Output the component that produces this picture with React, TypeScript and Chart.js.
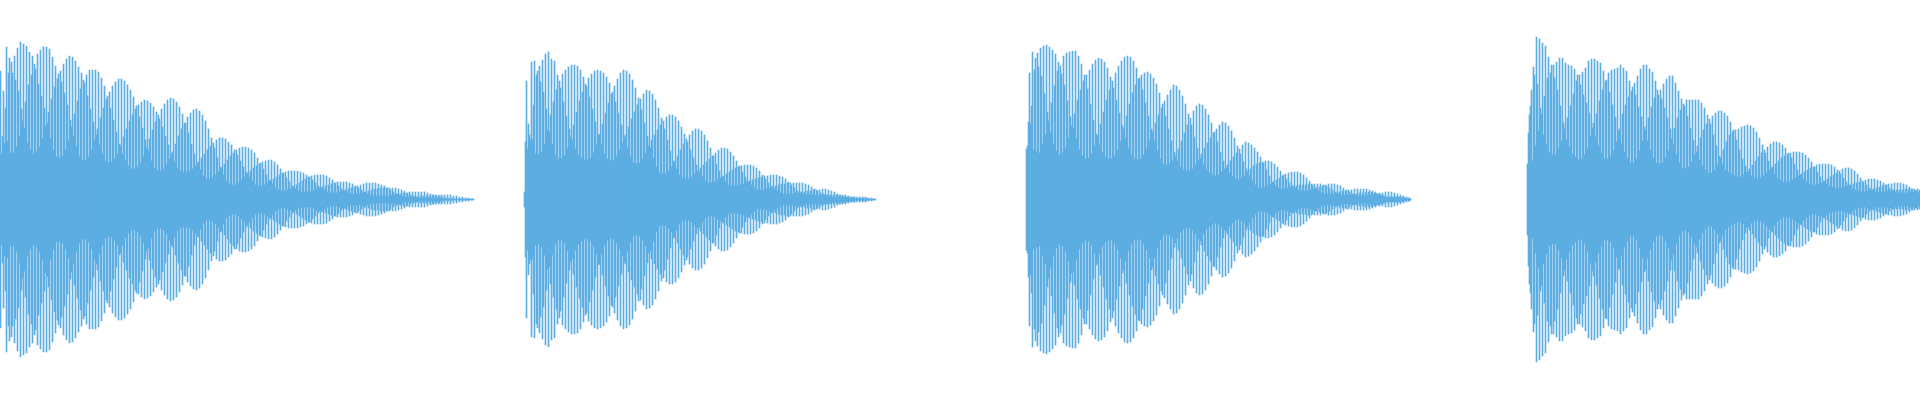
import React, { useEffect, useRef } from "react";
import { Chart, registerables } from "chart.js";

Chart.register(...registerables);

// Half-heights of the waveform bars, listed as the three
// interleaved strands visible in every clip.
const clipA0 = [129,109,153,142,127,120,109,91,72,57,50,46,48,53,61,74,88,101,113,121,129,136,141,144,143,139,133,127,117,104,91,78,65,55,46,39,37,38,41,46,54,63,71,79,85,91,95,98,100,99,97,93,88,81,73,64,55,46,38,32,29,28,28,29,31,34,38,42,46,50,54,57,60,62,62,61,58,55,50,45,39,33,28,23,19,15,14,14,15,17,19,21,23,25,27,28,29,29,29,29,28,27,25,23,20,17,14,12,10,8,7,7,7,8,9,10,11,12,13,14,15,16,17,17,17,17,16,15,14,12,10,8,6,5,4,3,3,3,3,3,4,4,4,4,5,5,5,5,5,5,5,4,4,3,3,2,2,1];
const clipA1 = [46,57,59,47,47,53,64,79,98,115,125,136,146,150,153,153,151,143,134,126,118,107,95,80,64,53,44,40,40,43,50,60,71,82,92,101,108,114,118,121,121,119,115,110,103,94,83,72,60,49,39,32,29,29,31,35,41,48,56,64,71,77,83,87,90,91,89,85,79,71,62,52,42,33,25,19,16,15,15,17,20,23,26,29,32,34,36,38,39,40,40,38,35,31,27,22,18,14,11,9,8,8,8,8,9,11,12,13,14,15,16,17,18,18,18,18,17,16,14,12,10,8,6,5,4,4,4,4,4,4,5,5,6,6,7,7,8,8,8,8,8,8,7,6,5,4,4,3,2,2,2,1,1,1,1,1,1,1];
const clipA2 = [64,92,127,138,144,152,158,156,154,148,144,131,116,104,92,77,61,50,43,42,44,50,59,73,86,99,111,120,125,130,130,130,128,122,114,104,92,80,68,56,46,39,34,31,31,33,37,44,52,61,70,78,85,91,96,100,102,101,98,93,86,77,67,56,46,37,30,24,21,21,22,25,28,32,36,40,44,47,50,52,53,53,52,50,47,42,37,31,25,20,16,12,10,9,9,10,11,13,15,17,19,21,23,24,25,25,25,25,24,22,20,17,14,11,9,7,6,6,6,6,7,8,9,10,11,11,12,12,12,12,12,12,11,10,9,7,5,4,3,2,2,2,2,2,2,2,2,1,1,1,1,1,1,1,1,1,1,1];

const clipBLead = [8];
const clipB0 = [58,76,138,139,129,118,108,91,68,56,45,41,41,44,52,63,75,88,99,108,116,122,126,129,130,129,127,123,117,108,98,87,75,63,52,43,37,36,37,41,47,54,60,65,70,75,79,83,85,85,83,79,73,66,58,50,42,35,28,23,19,17,17,18,20,22,24,26,28,30,32,33,34,35,35,35,34,32,29,25,21,17,14,11,9,7,6,6,6,6,7,7,8,8,9,9,10,10,10,11,11,10,9,8,6,5,4,3,2,2,1,1,1,1,1,1,1];
const clipB1 = [119,65,60,46,45,48,56,70,85,98,110,119,126,130,133,135,135,134,130,123,114,103,91,78,66,55,46,41,39,40,44,50,57,65,73,81,88,95,101,106,110,109,106,100,92,82,71,60,49,39,31,25,22,21,21,23,26,29,32,35,38,41,44,47,50,52,52,51,48,44,39,34,28,23,18,15,12,10,10,10,11,12,13,14,15,16,16,17,17,17,17,17,17,16,15,13,11,9,7,6,5,4,3,3,3,3,3,3,3,3,3,3,3,3,2,2,1];
const clipB2 = [51,61,95,125,134,140,146,148,141,139,125,112,98,84,71,60,51,45,42,40,40,42,47,55,65,76,87,97,106,114,121,127,130,129,126,120,112,102,90,77,64,52,42,33,27,26,26,29,33,38,44,50,56,61,65,69,71,71,69,65,59,52,44,36,29,23,18,15,14,14,14,15,16,18,19,20,21,22,23,24,24,25,25,25,24,23,21,18,15,12,9,7,6,5,5,5,5,5,5,5,5,5,5,5,5,5,5,4,3,3,2,2,2,2,1,1,1];

const clipCLead = [51];
const clipC0 = [54,76,50,48,47,56,65,79,97,114,129,134,144,147,148,149,149,144,136,125,111,96,80,66,55,47,43,41,41,44,50,59,71,84,96,107,115,121,125,127,128,126,122,116,107,96,84,71,59,48,39,33,30,29,29,31,35,40,46,52,57,62,67,71,75,78,77,74,69,62,54,46,38,31,24,19,15,12,12,13,14,16,18,20,22,24,26,27,28,28,28,27,25,22,19,15,12,9,7,6,6,6,6,7,8,9,9,10,10,11,11,11,11,11,10,9,8,6,5,4,3,3,3,3,3,3,2,2];
const clipC1 = [78,94,130,147,152,154,155,153,150,146,138,126,115,99,83,72,61,50,44,41,42,46,54,64,76,88,100,110,119,127,134,139,143,144,143,139,132,122,110,97,84,71,59,49,41,36,35,36,39,44,51,59,67,75,82,89,94,96,95,91,85,77,68,58,48,39,32,27,24,21,20,22,24,28,31,34,36,37,38,39,39,38,36,33,29,25,21,17,14,12,10,9,9,9,10,11,12,13,14,15,16,16,16,15,14,12,10,8,6,5,4,4,4,5,5,6,6,7,7,8,8,8,7,6,5,4,3,2];
const clipC2 = [127,148,142,133,124,106,88,68,56,49,45,47,52,62,74,86,100,110,119,125,130,136,140,142,141,138,132,123,112,100,87,74,62,52,45,41,40,41,45,51,59,68,77,85,92,99,105,110,115,114,110,104,96,86,75,63,52,42,35,30,27,25,24,25,28,31,35,39,43,47,51,55,58,57,55,52,48,43,37,30,24,18,14,12,11,11,12,13,14,14,15,15,15,16,16,16,16,16,15,14,12,10,8,6,5,5,5,5,6,6,7,7,8,8,8,7,6,5,4,3,3,3,3,3,2,2,1,1];

const clipDLead = [36];
const clipD0 = [67,110,125,116,92,65,55,47,45,45,51,59,71,82,94,106,119,125,128,132,139,141,141,139,137,129,120,108,95,83,69,56,48,42,37,37,41,49,59,70,82,93,102,110,110,116,121,124,124,117,109,101,94,84,72,60,48,40,34,30,27,27,30,35,42,50,58,65,68,70,71,73,74,75,74,72,68,62,55,47,39,32,26,22,20,18,18,18,20,22,24,26,28,30,32,33,35,36,36,36,36,35,33,30,26,22,18,15,12,10,9,8,8,9,10,11,12,13,14,15,16,16,17,17,17,16,15,13,11,9,7];
const clipD1 = [85,39,54,69,86,104,122,127,135,138,142,142,137,135,134,131,125,115,105,97,87,72,63,54,47,41,41,43,49,58,71,86,95,103,109,117,124,131,135,135,131,128,119,105,101,92,82,71,55,45,37,32,31,33,38,45,54,62,70,76,81,84,87,89,89,87,84,78,70,60,50,41,34,28,24,22,21,22,24,27,30,33,36,39,42,44,46,47,48,48,48,47,45,42,38,33,28,23,19,16,14,13,12,12,12,13,14,15,16,17,18,19,20,21,21,21,20,19,17,15,12,10,8,7,7,7,7,8,8,9,10];
const clipD2 = [94,133,163,161,157,154,143,135,122,110,94,77,60,53,46,43,40,41,45,52,64,77,86,99,110,119,127,130,131,132,135,132,129,119,113,105,93,83,73,59,50,42,37,36,37,42,49,61,72,82,90,96,100,100,100,100,100,97,92,85,76,65,54,44,36,30,28,26,24,23,23,25,28,31,35,39,43,47,50,53,56,58,58,57,55,52,47,42,36,30,25,21,18,16,15,15,16,17,19,21,23,25,27,29,31,32,32,31,29,26,22,18,15,12,10,8,8,8,8,9,9,10,10,10,10,11,11,11,11,11];

// Silent stretches between the clips, in bars.
const silenceAB = 50;
const silenceBC = 150;
const silenceCD = 116;

const weave = (lead: number[], a: number[], b: number[], c: number[]) => {
  const out = [...lead];
  const n = Math.max(a.length, b.length, c.length);
  for (let i = 0; i < n; i++) {
    if (i < a.length) out.push(a[i]);
    if (i < b.length) out.push(b[i]);
    if (i < c.length) out.push(c[i]);
  }
  return out;
};
const quiet = (n: number): (number | null)[] => new Array(n).fill(null);

const magnitudes: (number | null)[] = [
  ...weave([], clipA0, clipA1, clipA2),
  ...quiet(silenceAB),
  ...weave(clipBLead, clipB0, clipB1, clipB2),
  ...quiet(silenceBC),
  ...weave(clipCLead, clipC0, clipC1, clipC2),
  ...quiet(silenceCD),
  ...weave(clipDLead, clipD0, clipD1, clipD2),
];

export default function App() {
  const ref = useRef<HTMLCanvasElement | null>(null);
  useEffect(() => {
    document.body.style.margin = "0";
    const ctx = ref.current!;
    const chart = new Chart(ctx, {
      type: "bar",
      data: {
        labels: Array.from({ length: 1920 }, (_, i) => String(i)),
        datasets: [
          {
            data: Array.from({ length: 1920 }, (_, i) => {
              const m = magnitudes[i];
              return m == null ? null : [1 - m, m];
            }) as any,
            backgroundColor: "#5DADE2",
            borderWidth: 0,
            borderSkipped: false,
            barPercentage: 1,
            categoryPercentage: 1,
          },
        ],
      },
      options: {
        responsive: false,
        animation: false,
        events: [],
        layout: { padding: 0 },
        plugins: { legend: { display: false }, tooltip: { enabled: false } },
        scales: {
          x: { display: false },
          y: { display: false, min: -200, max: 200 },
        },
      },
    });
    return () => chart.destroy();
  }, []);
  return <canvas ref={ref} width={1920} height={400} style={{ display: "block" }} />;
}
